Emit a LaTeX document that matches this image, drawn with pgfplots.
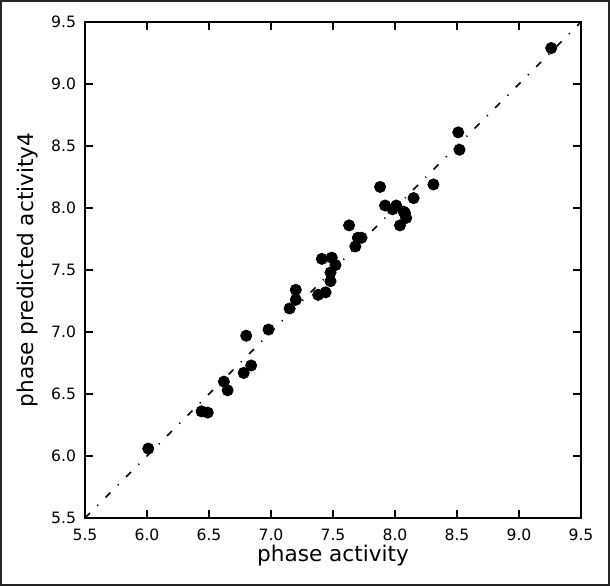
\documentclass[border=0pt]{standalone}
\usepackage{pgfplots}
\pgfplotsset{compat=1.18}
\usepackage{fontspec}
\setmainfont{DejaVu Sans}
\begin{document}
\begin{tikzpicture}
\begin{axis}[
  at={(42.5pt,34pt)}, anchor=south west,
  scale only axis, width=248pt, height=248pt,
  xmin=5.5, xmax=9.5, ymin=5.5, ymax=9.5,
  xtick={5.5,6.0,...,9.5}, ytick={5.5,6.0,...,9.5},
  tick align=inside, major tick length=4pt,
  tick style={line width=0.7pt, black},
  axis line style={line width=0.9pt},
  /pgf/number format/assume math mode=true,
  /pgf/number format/.cd, fixed, fixed zerofill, precision=1, /pgfplots/.cd,
  tick label style={font=\fontsize{7.8}{9}\selectfont},
  xticklabel style={yshift=-2pt},
  yticklabel style={xshift=-1pt},
  xlabel={phase activity}, ylabel={phase predicted activity4},
  label style={font=\fontsize{10.8}{13}\selectfont},
  xlabel style={at={(axis description cs:0.5,-0.075)}, anchor=center},
  ylabel style={at={(axis description cs:-0.115,0.5)}, anchor=center},
  clip=false,
]
\addplot[black, line width=0.8pt, dash pattern=on 3.5pt off 5.2pt on 0.6pt off 5.2pt] coordinates {(5.5,5.5) (9.5,9.5)};
\addplot[only marks, mark=*, mark size=2.8pt, black] coordinates {
(6.01,6.06) (6.44,6.36) (6.49,6.35) (6.62,6.60) (6.65,6.53)
(6.78,6.67) (6.84,6.73) (6.80,6.97) (6.98,7.02) (7.15,7.19)
(7.20,7.26) (7.20,7.34) (7.38,7.30) (7.44,7.32) (7.41,7.59)
(7.48,7.41) (7.48,7.48) (7.49,7.60) (7.52,7.54) (7.63,7.86)
(7.68,7.69) (7.70,7.76) (7.73,7.76) (7.88,8.17) (7.92,8.02)
(7.98,7.99) (8.01,8.02) (8.07,7.97) (8.04,7.86) (8.09,7.92)
(8.08,7.96) (8.15,8.08) (8.31,8.19) (8.51,8.61) (8.52,8.47)
(9.26,9.29)
};
\end{axis}
\draw[line width=1pt, black!85] (0.5pt,0.5pt) rectangle (304.5pt,292.5pt);
\end{tikzpicture}
\end{document}
